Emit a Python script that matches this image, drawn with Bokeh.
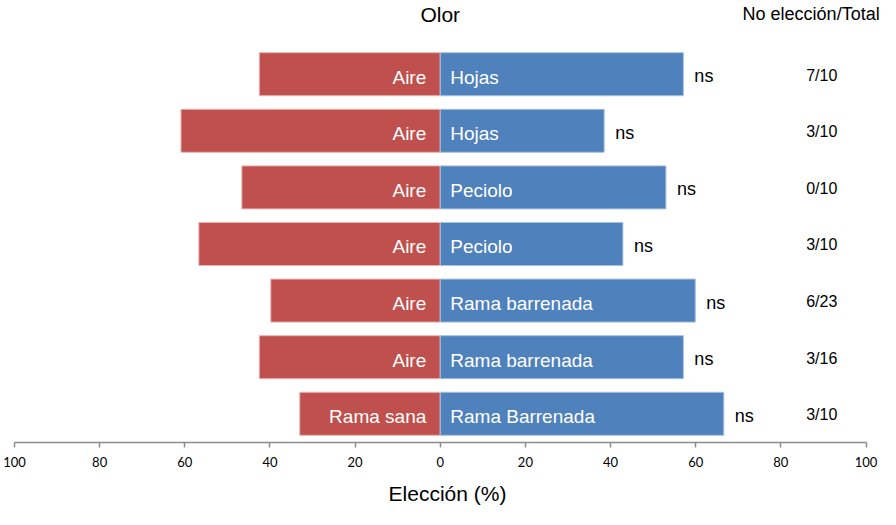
from bokeh.plotting import figure
from bokeh.models import ColumnDataSource, Range1d, FixedTicker
from bokeh.core.properties import value
from bokeh.embed import file_html
from bokeh.resources import INLINE

# ---- data (top row first) ----
left_labels = ["Aire", "Aire", "Aire", "Aire", "Aire", "Aire", "Rama sana"]
right_labels = ["Hojas", "Hojas", "Peciolo", "Peciolo", "Rama barrenada", "Rama barrenada", "Rama Barrenada"]
left_pct = [42.5, 60.9, 46.6, 56.7, 39.8, 42.5, 33.0]
right_pct = [57.1, 38.5, 53.0, 42.9, 59.9, 57.1, 66.6]
signif = ["ns", "ns", "ns", "ns", "ns", "ns", "ns"]
no_choice = ["7/10", "3/10", "0/10", "3/10", "6/23", "3/16", "3/10"]
tick_values = [-100, -80, -60, -40, -20, 0, 20, 40, 60, 80, 100]
tick_labels = ["100", "80", "60", "40", "20", "0", "20", "40", "60", "80", "100"]
title_text = "Olor"
column_title = "No elección/Total"
x_title = "Elección (%)"

n = len(left_labels)
rows = list(range(n, 0, -1))

src = ColumnDataSource(dict(
    y=rows,
    neg=[-v for v in left_pct],
    pos=right_pct,
    zero=[0] * n,
    ll=left_labels,
    rl=right_labels,
    ns=signif,
    nc=no_choice,
    ncx=[89.6] * n,
))

p = figure(width=880, height=509, output_backend="svg", toolbar_location=None,
           x_range=Range1d(-100, 103.4), y_range=Range1d(0.493, 8.302),
           min_border_left=14, min_border_right=0, min_border_top=0, min_border_bottom=67)
p.outline_line_color = None
p.grid.visible = False
p.yaxis.visible = False
p.background_fill_color = "white"

RED = "#C0504D"
BLUE = "#4F81BD"
p.hbar(y="y", left="neg", right="zero", height=0.76, source=src,
       fill_color=RED, line_color="#E8B4B3", line_width=1)
p.hbar(y="y", left="zero", right="pos", height=0.76, source=src,
       fill_color=BLUE, line_color="#A9C1E0", line_width=1)

AR = value("Liberation Sans")
p.text(x="zero", y="y", text="ll", source=src, text_align="right", text_baseline="middle",
       x_offset=-14, y_offset=3, text_color="white", text_font=AR, text_font_size="19px")
p.text(x="zero", y="y", text="rl", source=src, text_align="left", text_baseline="middle",
       x_offset=10, y_offset=3, text_color="white", text_font=AR, text_font_size="19px")
p.text(x="pos", y="y", text="ns", source=src, text_align="left", text_baseline="middle",
       x_offset=11, y_offset=2, text_color="black", text_font=AR, text_font_size="18px")
p.text(x="ncx", y="y", text="nc", source=src, text_align="center", text_baseline="middle",
       y_offset=1, text_color="black", text_font=AR, text_font_size="16px")

p.text(x=[0], y=[8.05], text=[title_text], text_align="center", text_baseline="middle",
       text_color="black", text_font=AR, text_font_size="21px")
p.text(x=[103.2], y=[8.055], text=[column_title], text_align="right", text_baseline="middle",
       text_color="black", text_font=AR, text_font_size="18px")

ax = p.xaxis[0]
ax.bounds = (-100, 100)
ax.ticker = FixedTicker(ticks=tick_values)
ax.major_label_overrides = {t: l for t, l in zip(tick_values, tick_labels)}
ax.minor_tick_line_color = None
ax.major_tick_in = 0
ax.major_tick_out = 5
ax.axis_line_color = "#8C8C8C"
ax.axis_line_width = 1.5
ax.major_tick_line_color = "#8C8C8C"
ax.major_tick_line_width = 1.5
ax.major_label_text_font = "Lato"
ax.major_label_text_font_size = "13px"
ax.major_label_text_color = "black"
ax.major_label_standoff = 9
ax.axis_label = x_title
ax.axis_label_text_font = "Liberation Sans"
ax.axis_label_text_font_style = "normal"
ax.axis_label_text_font_size = "21px"
ax.axis_label_text_color = "black"
ax.axis_label_standoff = 12

open("out.html", "w").write(file_html(p, INLINE))
